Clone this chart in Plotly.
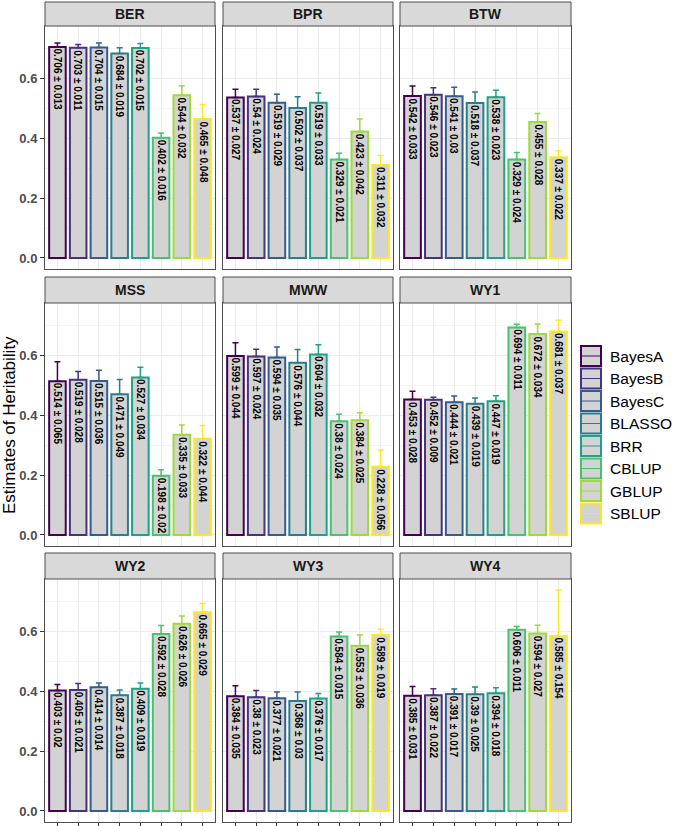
import plotly.graph_objects as go

models = ["BayesA", "BayesB", "BayesC", "BLASSO", "BRR", "CBLUP", "GBLUP", "SBLUP"]
colors = ["#440154", "#46337E", "#365C8D", "#277F8E", "#1FA187", "#4AC16D", "#9FDA3A", "#FDE725"]
traits = ["BER", "BPR", "BTW", "MSS", "MWW", "WY1", "WY2", "WY3", "WY4"]

BER_mean = [0.706, 0.703, 0.704, 0.684, 0.702, 0.402, 0.544, 0.465]
BER_se = [0.013, 0.011, 0.015, 0.019, 0.015, 0.016, 0.032, 0.048]
BPR_mean = [0.537, 0.54, 0.519, 0.502, 0.519, 0.329, 0.423, 0.311]
BPR_se = [0.027, 0.024, 0.029, 0.037, 0.033, 0.021, 0.042, 0.032]
BTW_mean = [0.542, 0.546, 0.541, 0.518, 0.538, 0.329, 0.455, 0.337]
BTW_se = [0.033, 0.023, 0.03, 0.037, 0.023, 0.024, 0.028, 0.022]
MSS_mean = [0.514, 0.519, 0.515, 0.471, 0.527, 0.198, 0.335, 0.322]
MSS_se = [0.065, 0.028, 0.036, 0.049, 0.034, 0.02, 0.033, 0.044]
MWW_mean = [0.599, 0.597, 0.594, 0.576, 0.604, 0.38, 0.384, 0.228]
MWW_se = [0.044, 0.024, 0.035, 0.044, 0.032, 0.024, 0.025, 0.056]
WY1_mean = [0.453, 0.452, 0.444, 0.439, 0.447, 0.694, 0.672, 0.681]
WY1_se = [0.028, 0.009, 0.021, 0.019, 0.019, 0.011, 0.034, 0.037]
WY2_mean = [0.403, 0.405, 0.414, 0.387, 0.409, 0.592, 0.626, 0.665]
WY2_se = [0.02, 0.021, 0.014, 0.018, 0.019, 0.028, 0.026, 0.029]
WY3_mean = [0.384, 0.38, 0.377, 0.368, 0.376, 0.584, 0.553, 0.589]
WY3_se = [0.035, 0.023, 0.021, 0.03, 0.017, 0.015, 0.036, 0.019]
WY4_mean = [0.385, 0.387, 0.391, 0.39, 0.394, 0.606, 0.594, 0.585]
WY4_se = [0.031, 0.022, 0.017, 0.025, 0.018, 0.011, 0.027, 0.154]

means = [BER_mean, BPR_mean, BTW_mean, MSS_mean, MWW_mean, WY1_mean, WY2_mean, WY3_mean, WY4_mean]
ses = [BER_se, BPR_se, BTW_se, MSS_se, MWW_se, WY1_se, WY2_se, WY3_se, WY4_se]
y_ticks = [0.0, 0.2, 0.4, 0.6]
y_ticklabels = ["0.0", "0.2", "0.4", "0.6"]

W, H = 674, 826
FONT = "Arial, Liberation Sans, sans-serif"
col_px = [(45, 215), (223, 393), (400, 571)]
row_px = [(26, 269), (303, 546), (579, 822)]
strip_top = [2, 277, 553]

def px_x(p):
    return p / W

def px_y(p):
    return 1 - p / H

ymax = max(m + s for mm, ss in zip(means, ses) for m, s in zip(mm, ss))
pad = 0.05 * ymax
yrange = [-pad, ymax + pad]

fig = go.Figure()
shapes = []
annotations = []

for i, trait in enumerate(traits):
    r, c = divmod(i, 3)
    n = i + 1
    xa = "x" if n == 1 else f"x{n}"
    ya = "y" if n == 1 else f"y{n}"
    for k, m in enumerate(models):
        fig.add_trace(go.Bar(
            x=[m], y=[means[i][k]], name=m, showlegend=False,
            xaxis=xa, yaxis=ya, width=0.8,
            marker=dict(color="#D3D3D3", line=dict(color=colors[k], width=2)),
            error_y=dict(type="data", symmetric=False, array=[ses[i][k]], arrayminus=[0],
                         color=colors[k], thickness=1.5, width=3),
            hoverinfo="skip",
        ))
        annotations.append(dict(
            x=m, y=means[i][k], xref=xa, yref=ya,
            text=f"{means[i][k]:g} ± {ses[i][k]:g}",
            textangle=90, showarrow=False, yanchor="top", xanchor="center",
            font=dict(family=FONT, size=10, color="#000000", weight="bold"),
        ))
    x0, x1 = col_px[c]
    y0, y1 = row_px[r]
    axx = dict(
        domain=[px_x(x0), px_x(x1)], anchor=ya, type="category",
        categoryorder="array", categoryarray=models, range=[-0.6, 7.6],
        showgrid=True, gridcolor="#EBEBEB", gridwidth=1,
        showline=True, mirror=True, linecolor="#4D4D4D", linewidth=1,
        showticklabels=False, zeroline=False,
        ticks="outside" if r == 2 else "", ticklen=4, tickcolor="#333333",
    )
    axy = dict(
        domain=[px_y(y1), px_y(y0)], anchor=xa, range=yrange,
        tickvals=y_ticks, ticktext=y_ticklabels,
        showgrid=True, gridcolor="#EBEBEB", gridwidth=1,
        minor=dict(dtick=0.1, tick0=0.1, showgrid=True, gridcolor="#F4F4F4", gridwidth=0.6),
        showline=True, mirror=True, linecolor="#4D4D4D", linewidth=1,
        zeroline=False, showticklabels=(c == 0),
        ticks="outside" if c == 0 else "", ticklen=4, tickcolor="#333333",
        tickfont=dict(family=FONT, size=13, color="#4D4D4D", weight="bold"),
    )
    fig.update_layout(**{("xaxis" if n == 1 else f"xaxis{n}"): axx,
                         ("yaxis" if n == 1 else f"yaxis{n}"): axy})
    # strip
    shapes.append(dict(type="rect", xref="paper", yref="paper",
                       x0=px_x(x0), x1=px_x(x1), y0=px_y(y0), y1=px_y(strip_top[r]),
                       fillcolor="#D9D9D9", line=dict(color="#4D4D4D", width=1), layer="above"))
    annotations.append(dict(x=px_x((x0 + x1) / 2), y=px_y((y0 + strip_top[r]) / 2),
                            xref="paper", yref="paper", text=trait, showarrow=False,
                            xanchor="center", yanchor="middle",
                            font=dict(family=FONT, size=14, color="#1A1A1A", weight="bold")))

# y-axis title
annotations.append(dict(x=px_x(9), y=px_y(425), xref="paper", yref="paper",
                        text="Estimates of Heritability", textangle=-90, showarrow=False,
                        xanchor="center", yanchor="middle",
                        font=dict(family=FONT, size=17, color="#000000")))

# legend (manual)
lx0, lx1 = 581, 601
ly = 346
pitch = 22.5
for k, m in enumerate(models):
    t = ly + k * pitch
    b = t + 20
    shapes.append(dict(type="rect", xref="paper", yref="paper",
                       x0=px_x(lx0), x1=px_x(lx1), y0=px_y(b), y1=px_y(t),
                       fillcolor="#D3D3D3", line=dict(color=colors[k], width=2)))
    shapes.append(dict(type="line", xref="paper", yref="paper",
                       x0=px_x(lx0), x1=px_x(lx1), y0=px_y((t + b) / 2), y1=px_y((t + b) / 2),
                       line=dict(color=colors[k], width=1)))
    annotations.append(dict(x=px_x(608), y=px_y((t + b) / 2), xref="paper", yref="paper",
                            text=m, showarrow=False, xanchor="left", yanchor="middle",
                            font=dict(family=FONT, size=15.5, color="#000000")))

fig.update_layout(
    width=W, height=H, margin=dict(l=0, r=0, t=0, b=0),
    paper_bgcolor="white", plot_bgcolor="white",
    barmode="overlay", showlegend=False,
    shapes=shapes, annotations=annotations,
)

fig.write_html("out.html", config={"displayModeBar": False},
               post_script="document.body.style.margin='0';")
